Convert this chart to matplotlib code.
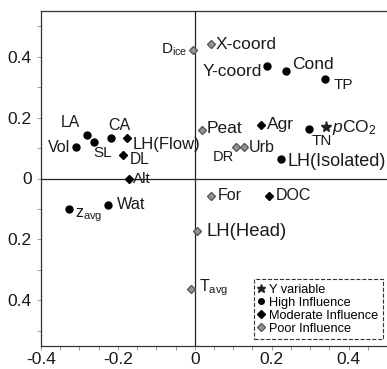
import matplotlib
matplotlib.use("Agg")
import matplotlib.pyplot as plt
from matplotlib.lines import Line2D

plt.rcParams["font.family"] = ["Liberation Sans", "DejaVu Sans"]
plt.rcParams["mathtext.fontset"] = "custom"
plt.rcParams["mathtext.rm"] = "Liberation Sans"
plt.rcParams["mathtext.it"] = "Liberation Sans:italic"

# variable loadings
names = ["D$_{\\rm ice}$", "X-coord", "Y-coord", "Cond", "TP", "Peat", "Agr", "TN",
         "$p$CO$_2$", "DR", "Urb", "LH(Isolated)", "LA", "Vol", "SL", "CA",
         "LH(Flow)", "DL", "Alt", "z$_{\\rm avg}$", "Wat", "LH(Head)",
         "T$_{\\rm avg}$", "For", "DOC"]
x_vals = [-0.004, 0.041, 0.189, 0.238, 0.340, 0.018, 0.171, 0.296,
          0.342, 0.107, 0.128, 0.223, -0.280, -0.309, -0.263, -0.218,
          -0.177, -0.188, -0.172, -0.326, -0.227, 0.006,
          -0.009, 0.043, 0.192]
y_vals = [0.421, 0.441, 0.370, 0.352, 0.327, 0.158, 0.175, 0.164,
          0.168, 0.103, 0.103, 0.065, 0.144, 0.102, 0.119, 0.134,
          0.132, 0.076, -0.003, -0.100, -0.087, -0.173,
          -0.364, -0.056, -0.056]
# Y = y variable, H = high, M = moderate, P = poor influence
groups = ["P", "P", "H", "H", "H", "P", "M", "H",
          "Y", "P", "P", "H", "H", "H", "H", "H",
          "M", "M", "M", "H", "H", "P",
          "P", "P", "M"]

x_ticks = [-0.4, -0.2, 0, 0.2, 0.4]
x_tick_labels = ["-0.4", "-0.2", "0", "0.2", "0.4"]
y_ticks = [-0.4, -0.2, 0, 0.2, 0.4]
y_tick_labels = ["0.4", "0.2", "0", "0.2", "0.4"]

legend_labels = {"Y": "Y variable", "H": "High Influence",
                 "M": "Moderate Influence", "P": "Poor Influence"}

styles = {
    "Y": dict(marker="*", ms=8, mfc="#222222", mec="#222222"),
    "H": dict(marker="o", ms=5, mfc="black", mec="black"),
    "M": dict(marker="D", ms=4.5, mfc="black", mec="black"),
    "P": dict(marker="D", ms=4.5, mfc="#959595", mec="#5a5a5a"),
}

# label offsets in pixels, alignment, font size
label_pos = {
    "D$_{\\rm ice}$": (-6, 0, "right", 11),
    "X-coord": (5, 0, "left", 12.5),
    "Y-coord": (-5, -6, "right", 12.5),
    "Cond": (6, 7, "left", 12.5),
    "TP": (8, -6, "left", 11),
    "Peat": (5, 2, "left", 12.5),
    "Agr": (6, 1, "left", 12.5),
    "TN": (13, -12, "center", 11),
    "$p$CO$_2$": (6, 0, "left", 12.5),
    "DR": (-13, -10, "center", 10.5),
    "Urb": (5, 0, "left", 11.5),
    "LH(Isolated)": (7, -3, "left", 13),
    "LA": (-17, 12, "center", 11.3),
    "Vol": (-6, 0, "right", 11.5),
    "SL": (9, -11, "center", 11),
    "CA": (8, 12, "center", 11.5),
    "LH(Flow)": (6, -6, "left", 12),
    "DL": (7, -4, "left", 11.2),
    "Alt": (4, 0, "left", 11),
    "z$_{\\rm avg}$": (6, -6, "left", 11.5),
    "Wat": (9, 0, "left", 11.7),
    "LH(Head)": (9, 0, "left", 13.3),
    "T$_{\\rm avg}$": (8, 2, "left", 11.5),
    "For": (6, 0, "left", 11.5),
    "DOC": (7, 0, "left", 11.5),
}

fig = plt.figure(figsize=(3.87, 3.69), dpi=100)
ax = fig.add_axes([41 / 387, 23 / 369, 346 / 387, 335 / 369])

ax.axhline(0, color="#222222", lw=0.9, zorder=1)
ax.axvline(0, color="#222222", lw=0.9, zorder=1)

for name, x, y, g in zip(names, x_vals, y_vals, groups):
    ax.plot(x, y, ls="none", zorder=3, **styles[g])
    dx, dy, ha, fs = label_pos[name]
    ax.annotate(name, (x, y), xytext=(dx, dy), textcoords="offset pixels",
                ha=ha, va="center", fontsize=fs, color="#1a1a1a")

ax.set_xlim(-0.4, 0.5)
ax.set_ylim(-0.55, 0.55)
ax.set_xticks([-0.4 + 0.05 * i for i in range(18)], minor=True)
ax.set_yticks([-0.5 + 0.1 * i for i in range(11)], minor=True)
ax.set_xticks(x_ticks)
ax.set_xticklabels(x_tick_labels)
ax.set_yticks(y_ticks)
ax.set_yticklabels(y_tick_labels)
ax.tick_params(which="both", direction="out", length=3, width=0.6,
               color="#888888", labelsize=12.5, labelcolor="#1a1a1a")
ax.tick_params(axis="x", pad=1)
ax.spines["right"].set_visible(False)
for s in ["left", "bottom", "top"]:
    ax.spines[s].set_color("#333333")
    ax.spines[s].set_linewidth(0.9)

handles = [Line2D([], [], ls="none", **styles[k]) for k in ["Y", "H", "M", "P"]]
leg = ax.legend(handles, [legend_labels[k] for k in ["Y", "H", "M", "P"]],
                loc="lower right", bbox_to_anchor=(0.988, 0.02),
                fontsize=9.2, handlelength=0.5, handletextpad=0.35,
                labelspacing=0.08, borderpad=0.35, borderaxespad=0,
                markerscale=0.8, fancybox=False, framealpha=1,
                edgecolor="#333333")
leg.get_frame().set_linestyle("--")
leg.get_frame().set_linewidth(0.8)

fig.savefig("out.png", dpi=100)
